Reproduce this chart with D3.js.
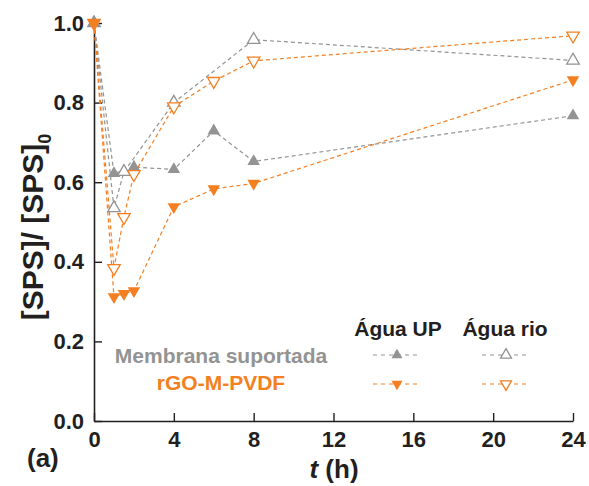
<!DOCTYPE html>
<html><head><meta charset="utf-8">
<script src="https://cdn.jsdelivr.net/npm/d3@7"></script>
<style>body{margin:0;background:#fff}svg{display:block}text{font-family:"Liberation Sans",Arial,sans-serif;font-weight:bold}</style>
</head><body><svg id="c" width="589" height="486"></svg>
<script>
// Data
const upMembT = [0, 1, 2, 4, 6, 8, 24];
const upMembV = [1.0, 0.622, 0.638, 0.632, 0.729, 0.652, 0.767];
const rioMembT = [0, 1, 1.5, 4, 8, 24];
const rioMembV = [1.0, 0.535, 0.626, 0.800, 0.958, 0.906];
const upRgoT = [0, 1, 1.5, 2, 4, 6, 8, 24];
const upRgoV = [1.0, 0.312, 0.320, 0.327, 0.538, 0.583, 0.597, 0.857];
const rioRgoT = [0, 1, 1.5, 2, 4, 6, 8, 24];
const rioRgoV = [1.0, 0.384, 0.512, 0.620, 0.790, 0.854, 0.905, 0.968];
const xTicks = [0, 4, 8, 12, 16, 20, 24];
const yTicks = [0.0, 0.2, 0.4, 0.6, 0.8, 1.0];
const legendCols = ["Água UP", "Água rio"];
const legendRows = ["Membrana suportada", "rGO-M-PVDF"];

const gray = "#939393", orange = "#f47f20";
const svg = d3.select("#c");
const x = d3.scaleLinear().domain([0, 24]).range([94, 573]);
const y = d3.scaleLinear().domain([0, 1]).range([421, 23]);

// axes
const gx = svg.append("g").attr("transform", "translate(0,421)");
gx.call(d3.axisBottom(x).tickValues(d3.range(2, 24, 4)).tickSize(-4).tickSizeOuter(0).tickFormat(""));
gx.call(d3.axisBottom(x).tickValues(xTicks).tickSize(-8).tickSizeOuter(0).tickPadding(10).tickFormat(d3.format("d")));
const gy = svg.append("g").attr("transform", "translate(94,0)");
gy.call(d3.axisLeft(y).tickValues(d3.range(0.1, 1, 0.2)).tickSize(-5).tickSizeOuter(0).tickFormat(""));
gy.call(d3.axisLeft(y).tickValues(yTicks).tickSize(-8).tickSizeOuter(0).tickPadding(10).tickFormat(d3.format(".1f")));
svg.selectAll(".domain").attr("stroke", "#231f20").attr("stroke-width", 1.6);
svg.selectAll(".tick line").attr("stroke", "#231f20").attr("stroke-width", 1.4);
svg.selectAll(".tick text").attr("font-size", 22).attr("fill", "#231f20").style("font-weight", "bold");

// titles
const xt = svg.append("text").attr("x", 334).attr("y", 478).attr("text-anchor", "middle").attr("font-size", 26).attr("fill", "#231f20");
xt.append("tspan").attr("font-style", "italic").text("t");
xt.append("tspan").text(" (h)");
const yt = svg.append("text").attr("transform", "translate(43,227) rotate(-90)").attr("text-anchor", "middle").attr("font-size", 30).attr("fill", "#231f20");
yt.append("tspan").text("[SPS]/ [SPS]");
yt.append("tspan").attr("font-size", 18).attr("dy", 8).text("0");
svg.append("text").attr("x", 27).attr("y", 467).attr("font-size", 26).attr("fill", "#231f20").text("(a)");

const tri = d3.symbol().type(d3.symbolTriangle).size(68);
const series = [
  {t: rioMembT, v: rioMembV, c: gray, fill: false, down: false},
  {t: upMembT, v: upMembV, c: gray, fill: true, down: false},
  {t: rioRgoT, v: rioRgoV, c: orange, fill: false, down: true},
  {t: upRgoT, v: upRgoV, c: orange, fill: true, down: true},
];
const line = d3.line().x(d => x(d[0])).y(d => y(d[1]));
series.forEach(s => {
  const pts = s.t.map((t, i) => [t, s.v[i]]);
  svg.append("path").attr("d", line(pts)).attr("fill", "none").attr("stroke", s.c)
    .attr("stroke-width", 1.2).attr("stroke-dasharray", "4,3");
});
series.forEach(s => {
  const pts = s.t.map((t, i) => [t, s.v[i]]);
  svg.append("g").selectAll("path").data(pts).join("path")
    .attr("d", tri)
    .attr("transform", d => `translate(${x(d[0])},${y(d[1])}) rotate(${s.down ? 180 : 0})`)
    .attr("fill", s.fill ? s.c : "#fff").attr("stroke", s.c).attr("stroke-width", s.fill ? 0 : 1.3);
});

// legend
const lg = svg.append("g");
lg.selectAll("text.col").data(legendCols).join("text").attr("class", "col")
  .attr("x", (d, i) => [398, 505][i]).attr("y", 336).attr("text-anchor", "middle")
  .attr("font-size", 21).attr("fill", "#231f20").text(d => d);
lg.selectAll("text.row").data(legendRows).join("text").attr("class", "row")
  .attr("x", 221).attr("y", (d, i) => [363, 390][i]).attr("text-anchor", "middle")
  .attr("font-size", 21).attr("fill", (d, i) => [gray, orange][i]).text(d => d);
const legItems = [
  {cx: 397, cy: 355, c: gray, fill: true, down: false},
  {cx: 506, cy: 355, c: gray, fill: false, down: false},
  {cx: 397, cy: 384, c: orange, fill: true, down: true},
  {cx: 506, cy: 384, c: orange, fill: false, down: true},
];
const triL = d3.symbol().type(d3.symbolTriangle).size(52);
legItems.forEach(d => {
  lg.append("line").attr("x1", d.cx - 24).attr("x2", d.cx + 22).attr("y1", d.cy).attr("y2", d.cy)
    .attr("stroke", d.c).attr("stroke-width", 1.1).attr("stroke-dasharray", "4,4");
  lg.append("path").attr("d", triL).attr("transform", `translate(${d.cx},${d.cy}) rotate(${d.down ? 180 : 0})`)
    .attr("fill", d.fill ? d.c : "#fff").attr("stroke", d.c).attr("stroke-width", d.fill ? 0 : 1.3);
});
</script></body></html>
